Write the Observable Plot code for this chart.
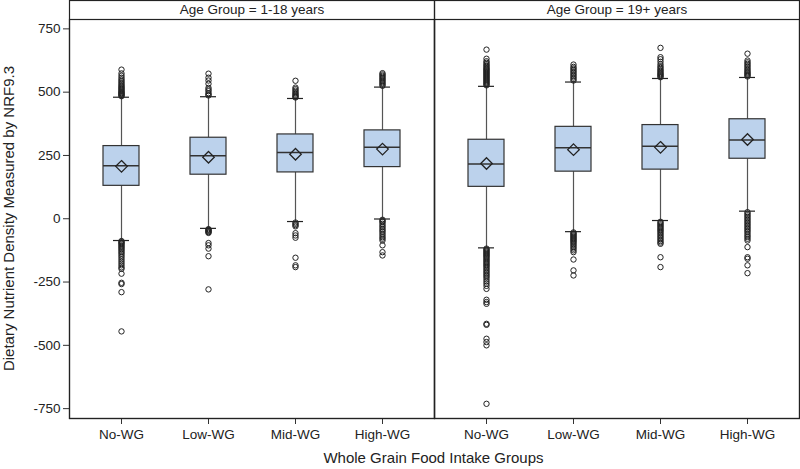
<!DOCTYPE html>
<html>
<head>
<meta charset="utf-8">
<script src="https://cdn.jsdelivr.net/npm/d3@7"></script>
<script src="https://cdn.jsdelivr.net/npm/@observablehq/plot@0.6"></script>
<style>
  html, body { margin: 0; padding: 0; background: #fff; }
</style>
</head>
<body>
<div id="chart"></div>
<script>
// ---- Data ----
const groups = ["No-WG", "Low-WG", "Mid-WG", "High-WG"];
const ageGroups = ["Age Group = 1-18 years", "Age Group = 19+ years"];
const yTicks = [-750, -500, -250, 0, 250, 500, 750];

// Age 1-18 years
const q1_child     = [130, 174, 183, 204];
const median_child = [209, 249, 262, 282];
const q3_child     = [287, 320, 333, 349];
const mean_child   = [207, 243, 255, 275];
const lo_child     = [-86, -38, -11, -1];
const hi_child     = [480, 482, 475, 520];

// Age 19+ years
const q1_adult     = [126, 186, 194, 237];
const median_adult = [216, 280, 286, 311];
const q3_adult     = [312, 363, 370, 393];
const mean_adult   = [218, 273, 282, 313];
const lo_adult     = [-115, -51, -7, 30];
const hi_adult     = [523, 540, 554, 558];

// Outliers, age 1-18
const out_child_No   = [484,487,490,493,496,499,502,506,510,514,518,522,527,532,538,544,550,557,565,574,589,
                        -88,-92,-96,-100,-105,-110,-115,-120,-126,-132,-138,-145,-152,-160,-168,-176,-184,-192,-198,-217,-253,-258,-290,-445];
const out_child_Low  = [487,491,496,504,510,517,533,546,557,573,
                        -41,-44,-47,-50,-53,-56,-96,-105,-118,-148,-279];
const out_child_Mid  = [479,482,486,490,495,500,506,512,518,545,
                        -15,-20,-25,-30,-57,-66,-75,-154,-184,-191];
const out_child_High = [525,530,535,540,545,550,555,560,565,570,575,
                        -4,-9,-13,-20,-27,-33,-40,-46,-52,-59,-66,-73,-79,-86,-105,-132,-145];

// Outliers, age 19+
const out_adult_No   = [527,531,535,539,543,547,551,555,559,563,567,571,575,579,583,587,591,595,600,605,610,616,622,632,668,
                        -118,-122,-126,-130,-134,-138,-142,-146,-150,-155,-160,-165,-170,-175,-180,-185,-190,-196,-202,-208,-214,-220,-226,-232,-240,-248,-256,-265,-277,
                        -320,-329,-336,-415,-419,-474,-487,-500,-731];
const out_adult_Low  = [546,552,558,564,570,576,582,588,594,600,609,
                        -54,-58,-62,-66,-70,-74,-78,-82,-86,-90,-95,-100,-106,-112,-118,-125,-132,-161,-204,-224];
const out_adult_Mid  = [559,563,567,571,575,580,585,590,596,602,610,620,630,638,675,
                        -12,-17,-22,-27,-32,-37,-42,-47,-52,-58,-64,-70,-76,-82,-88,-94,-99,-152,-191];
const out_adult_High = [562,566,570,574,578,583,588,594,600,606,612,618,625,652,
                        26,20,14,8,2,-4,-10,-16,-22,-28,-34,-40,-46,-52,-59,-66,-72,-79,-86,-112,-152,-158,-184,-215];

// ---- Build tables ----
const statSets = [
  {q1: q1_child, median: median_child, q3: q3_child, mean: mean_child, lo: lo_child, hi: hi_child},
  {q1: q1_adult, median: median_adult, q3: q3_adult, mean: mean_adult, lo: lo_adult, hi: hi_adult}
];
const stats = [];
statSets.forEach((s, a) => groups.forEach((g, i) => stats.push({
  age: ageGroups[a], group: g,
  q1: s.q1[i], median: s.median[i], q3: s.q3[i], mean: s.mean[i], lo: s.lo[i], hi: s.hi[i]
})));

const outlierSets = [
  [out_child_No, out_child_Low, out_child_Mid, out_child_High],
  [out_adult_No, out_adult_Low, out_adult_Mid, out_adult_High]
];
const outliers = [];
outlierSets.forEach((set, a) => set.forEach((vals, i) =>
  vals.forEach(v => outliers.push({age: ageGroups[a], group: groups[i], value: v}))));

// ---- Chart ----
const dark = "#222";
const boxFill = "#bcd2ec";

const chart = Plot.plot({
  width: 800,
  height: 469,
  marginLeft: 68,
  marginRight: 1,
  marginTop: 19,
  marginBottom: 51,
  style: {fontFamily: "'Liberation Sans', Arial, sans-serif", fontSize: "13.5px", color: dark, background: "#fff"},
  fx: {domain: ageGroups, padding: 0, axis: null},
  x: {type: "band", domain: groups, paddingInner: 0.586, paddingOuter: 0.39, axis: null},
  y: {domain: [-789, 787], axis: null},
  marks: [
    // whiskers
    Plot.ruleX(stats, {fx: "age", x: "group", y1: "lo", y2: "q1", stroke: "#555", strokeWidth: 1.2}),
    Plot.ruleX(stats, {fx: "age", x: "group", y1: "q3", y2: "hi", stroke: "#555", strokeWidth: 1.2}),
    // whisker caps
    Plot.tickY(stats, {fx: "age", x: "group", y: "lo", insetLeft: 10, insetRight: 10, stroke: dark, strokeWidth: 1.2}),
    Plot.tickY(stats, {fx: "age", x: "group", y: "hi", insetLeft: 10, insetRight: 10, stroke: dark, strokeWidth: 1.2}),
    // boxes
    Plot.barY(stats, {fx: "age", x: "group", y1: "q1", y2: "q3", fill: boxFill, stroke: "#333", strokeWidth: 1.2}),
    // medians
    Plot.tickY(stats, {fx: "age", x: "group", y: "median", stroke: "#333", strokeWidth: 1.5}),
    // means
    Plot.dot(stats, {fx: "age", x: "group", y: "mean", symbol: "diamond2", r: 5.2, stroke: dark, strokeWidth: 1.3, fill: "none"}),
    // outliers
    Plot.dot(outliers, {fx: "age", x: "group", y: "value", r: 2.7, stroke: dark, strokeWidth: 1, fill: "none"}),
    // axes
    Plot.axisY({ticks: yTicks, tickSize: 6, tickPadding: 3, tickFormat: d => String(d), label: null, stroke: "#333"}),
    Plot.axisX({tickSize: 6, tickPadding: 5, label: null, stroke: "#333"}),
    // panel frames and header boxes
    Plot.frame({stroke: dark, strokeWidth: 1.2}),
    Plot.frame({stroke: dark, strokeWidth: 1.2, insetTop: -19}),
    // panel headers
    Plot.text(ageGroups, {fx: d => d, text: d => d, frameAnchor: "top", dy: -9.5, lineAnchor: "middle", fontSize: 13.5, fill: dark})
  ]
});

// axis titles
const svg = d3.select(chart);
svg.append("text")
  .attr("x", 433.5).attr("y", 459)
  .attr("text-anchor", "middle").attr("dominant-baseline", "middle")
  .attr("font-size", 15).attr("fill", dark)
  .text("Whole Grain Food Intake Groups");
svg.append("text")
  .attr("transform", "translate(10,218.5) rotate(-90)")
  .attr("text-anchor", "middle").attr("dominant-baseline", "middle")
  .attr("font-size", 15).attr("fill", dark)
  .text("Dietary Nutrient Density Measured by NRF9.3");

document.getElementById("chart").appendChild(chart);
</script>
</body>
</html>
